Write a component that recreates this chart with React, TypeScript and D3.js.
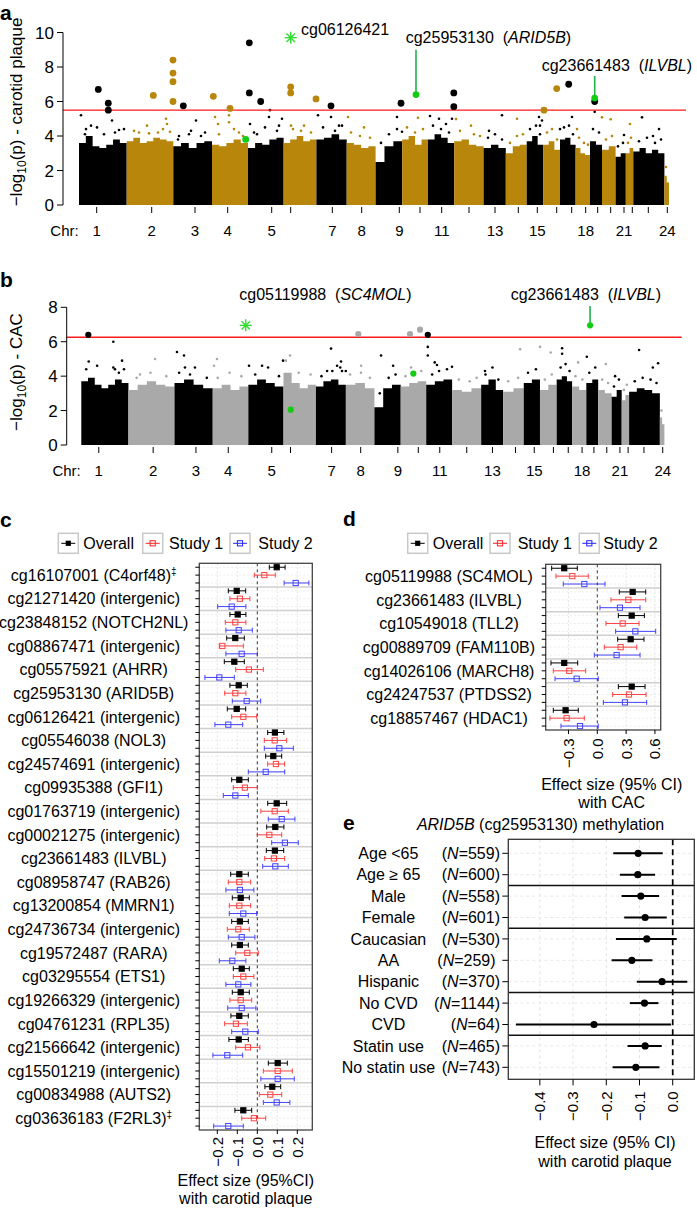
import React from "react";
import * as d3 from "d3";

const FONT = "'Liberation Sans', Arial, Helvetica, sans-serif";

// ---------------- Manhattan data ----------------
const chrLengths = [47.7, 46.6, 38.7, 36, 35.6, 32.8, 30.3, 28.9, 26.6, 25.8, 26.2, 29.4, 22.2, 20.9, 16.4, 16.9, 15.6, 14.4, 12, 13.6, 10.2, 7.5, 31.1, 4.6];
const chrTicks = [17.7, 72.7, 116, 148.7, 192.7, 211.7, 253.3, 282.7, 320.3, 341, 362.7, 390, 416, 439.3, 458.3, 477.7, 492.7, 506.7, 518.7, 531.7, 545, 553.3, 569.3, 588.3];
const chrTickLabels = ["1", "2", "3", "4", "5", "", "7", "8", "9", "", "11", "", "13", "", "15", "", "", "18", "", "", "21", "", "", "24"];

const profileA = [
  [3.6, 4.0, 3.4, 3.3, 3.5, 3.8, 3.6], [3.7, 3.9, 3.6, 3.7, 3.9, 3.8, 3.7], [3.4, 3.6, 3.3, 3.6, 3.7], [3.5, 3.4, 3.6, 3.8, 3.6],
  [3.3, 3.6, 3.5, 3.8, 3.9], [3.6, 3.8, 4.0, 3.7, 3.8], [3.8, 3.9, 4.1, 3.8], [3.6, 3.5, 3.3, 3.4], [2.5, 3.4, 3.7],
  [3.8, 4.0, 3.5, 3.8], [3.8, 4.1, 3.9, 3.6], [3.7, 3.8, 3.5, 3.4], [3.3, 3.5, 3.3], [3.0, 3.4, 3.5], [3.7, 4.0, 3.5],
  [3.5, 3.7, 3.2], [3.8, 3.9, 3.5], [3.3, 3.0, 2.9], [3.7, 3.5], [3.2, 3.4], [2.8, 3.0], [3.0, 3.3], [3.1, 3.3, 3.0, 3.2, 3.0], [1.7, 1.3],
];
const profileB = [
  [3.7, 3.9, 3.5, 3.3, 3.5, 3.8, 3.6], [3.2, 3.5, 3.7, 3.5, 3.4], [3.6, 3.8, 3.5, 3.3], [3.3, 3.5, 3.2, 3.4],
  [3.5, 3.8, 3.6, 3.4], [4.2, 3.6, 3.3, 3.5], [3.4, 3.7, 3.8, 3.5], [3.5, 3.6, 3.3], [2.2, 3.3, 3.5],
  [3.4, 3.6, 3.7], [3.5, 3.7, 3.8], [3.2, 3.1, 3.3], [3.5, 3.8, 3.2], [3.1, 3.3], [3.6, 3.8],
  [3.2, 3.5], [3.8, 4.0, 3.7], [3.4, 3.2], [3.6, 3.8], [3.2, 3.0], [2.8, 3.2], [2.6, 2.9], [3.1, 3.3, 3.2, 3.0], [1.6, 1.2],
];

const scatterA: [number, number][] = [
  [2, 5.2], [7, 4.4], [12, 4.6], [25, 4.1], [33, 4.9], [40, 4.35], [45, 4.4], [60, 4.2], [70, 4.15], [79, 4.2], [87, 5.0], [88, 4.7],
  [91, 4.25], [99, 3.8], [110, 4.1], [117, 4.9], [122, 4.0], [136, 5.1], [139, 4.7], [150, 5.2], [150, 4.8], [160, 4.2], [171, 4.7],
  [178, 4.1], [190, 5.1], [191, 5.5], [200, 4.6], [203, 5.0], [212, 4.6], [222, 4.3], [239, 5.2], [252, 5.1], [260, 4.6], [269, 5.1],
  [285, 4.5], [318, 5.1], [323, 4.25], [339, 5.06], [351, 5.16], [360, 5.0], [367, 4.7], [373, 5.0], [377, 4.98], [392, 4.6],
  [410, 4.3], [423, 5.2], [438, 5.0], [460, 5.1], [461, 4.6], [463, 4.9], [481, 4.4], [493, 5.1], [498, 4.4], [515.7, 5.4],
  [523, 5.08], [531.7, 4.97], [545, 4.06], [551, 4.7], [563, 5.08], [574, 4.0], [580, 4.4],
];
const fringeA: [number, number][] = [
  [6, 4.1], [18, 4.5], [36, 4.2], [55, 4.3], [68, 4.6], [84, 4.4], [100, 4.0], [112, 4.3], [126, 4.2], [140, 4.1], [155, 4.4],
  [164, 4.0], [175, 4.2], [186, 4.5], [198, 4.3], [214, 4.4], [225, 4.6], [232, 4.2], [244, 4.5], [256, 4.3], [263, 4.6],
  [272, 4.2], [281, 4.0], [291, 3.9], [302, 3.6], [310, 4.1], [318, 4.4], [328, 4.5], [336, 4.2], [344, 4.4], [354, 4.6],
  [362, 4.4], [370, 4.2], [381, 4.3], [395, 4.1], [401, 4.0], [409, 3.9], [416, 4.1], [423, 3.8], [431, 3.6], [438, 4.0],
  [444, 4.1], [451, 4.4], [457, 4.6], [461, 4.1], [468, 4.2], [473, 4.4], [478, 3.8], [485, 4.5], [490, 4.6], [494, 4.1],
  [500, 3.9], [505, 3.6], [509, 3.5], [514, 4.4], [520, 4.2], [527, 3.8], [533, 4.0], [539, 3.4], [544, 3.6], [549, 3.6],
  [552, 3.9], [560, 3.7], [568, 3.9], [576, 3.6], [582, 3.8], [587, 2.2],
];
const scatterB: [number, number][] = [
  [7.5, 4.85], [32.4, 6.0], [32.4, 4.5], [34.1, 4.4], [41.2, 4.9], [43.2, 4.4], [59.4, 4.1], [74.6, 5.0], [96.8, 5.4], [103.9, 5.2],
  [104.9, 4.5], [110, 4.1], [134.3, 4.6], [137.3, 5.0], [169.7, 4.6], [182.9, 4.6], [204.1, 4.9], [211.2, 5.2], [248.7, 4.3],
  [252.7, 5.6], [258.8, 4.6], [263.8, 4.3], [262.8, 4.85], [267.6, 4.3], [283.1, 4.6], [303.3, 5.2], [315.5, 4.6], [333.7, 4.5],
  [350.6, 5.7], [350.6, 5.2], [357.6, 4.8], [359.9, 4.65], [375.1, 4.55], [408.5, 4.3], [444, 5.56], [464.2, 5.7], [475, 5.37],
  [486.5, 5.62], [486.5, 5.3], [502.7, 4.8], [511.5, 5.13], [530.7, 4.7], [540.1, 4.0], [564.4, 5.52], [578.3, 4.5], [583.6, 4.75],
];
const fringeB: [number, number][] = [
  [5, 4.4], [16, 4.6], [38, 4.2], [56, 3.9], [70, 4.2], [86, 4.0], [99, 4.2], [115, 4.5], [127, 3.9], [138, 3.9], [150, 4.2],
  [162, 4.0], [176, 4.1], [189, 4.5], [200, 4.0], [207, 4.9], [220, 4.2], [232, 4.1], [243, 4.0], [254, 4.3], [262, 4.5],
  [272, 4.1], [283, 4.2], [292, 3.9], [302, 3.0], [311, 3.9], [318, 4.1], [328, 4.0], [337, 4.2], [344, 4.3], [355, 4.1],
  [362, 4.3], [370, 4.4], [382, 3.8], [393, 3.7], [400, 3.9], [409, 4.1], [416, 4.5], [422, 3.8], [432, 3.7], [442, 3.9],
  [452, 4.2], [460, 4.4], [469, 3.8], [476, 4.1], [485, 4.5], [490, 4.7], [494, 4.3], [500, 4.0], [507, 3.8], [514, 4.2],
  [520, 4.5], [527, 3.8], [533, 3.6], [539, 3.4], [544, 3.8], [549, 3.2], [552, 3.5], [560, 3.7], [568, 3.9], [576, 3.8],
  [582, 3.6], [587, 2.0],
];

const hitsA: [number, number][] = [
  [19.3, 6.7], [29.3, 5.9], [29.3, 5.5], [74.3, 6.35], [94, 8.4], [94, 7.65], [94, 7.15], [94, 6.0], [104.3, 5.75], [134.3, 6.3],
  [151, 5.6], [170.3, 9.4], [170.3, 6.5], [181.7, 6.0], [211.7, 6.85], [211.7, 6.5], [237, 6.15], [252, 5.75], [322, 5.9],
  [374.8, 6.5], [374.8, 5.7], [465, 5.5], [477.7, 6.75], [489.7, 7.0], [515.7, 6.0],
];
const hitsB: [number, number][] = [[7.1, 6.4], [280.3, 6.45], [332.6, 6.45], [342.8, 6.7], [350.6, 6.4]];
const greenA: [number, number][] = [[166.7, 3.8], [337, 6.4], [515.7, 6.2]];
const greenB: [number, number][] = [[211.9, 2.05], [336, 4.15], [514.8, 6.95]];
const starA: [number, number] = [211.7, 9.7];
const starB: [number, number] = [166.4, 6.95];

const chrStarts: number[] = chrLengths.reduce((acc: number[], l, i) => { acc.push(acc[i] + l); return acc; }, [0]);
const GENOME = chrStarts[chrStarts.length - 1];

// ---------------- Panel c data ----------------
const cpgC = [
  "cg16107001 (C4orf48)‡", "cg21271420 (intergenic)", "cg23848152 (NOTCH2NL)", "cg08867471 (intergenic)", "cg05575921 (AHRR)",
  "cg25953130 (ARID5B)", "cg06126421 (intergenic)", "cg05546038 (NOL3)", "cg24574691 (intergenic)", "cg09935388 (GFI1)",
  "cg01763719 (intergenic)", "cg00021275 (intergenic)", "cg23661483 (ILVBL)", "cg08958747 (RAB26)", "cg13200854 (MMRN1)",
  "cg24736734 (intergenic)", "cg19572487 (RARA)", "cg03295554 (ETS1)", "cg19266329 (intergenic)", "cg04761231 (RPL35)",
  "cg21566642 (intergenic)", "cg15501219 (intergenic)", "cg00834988 (AUTS2)", "cg03636183 (F2RL3)‡",
];
const cOverall: [number, number, number][] = [
  [0.097, 0.06, 0.139], [-0.103, -0.145, -0.058], [-0.098, -0.137, -0.057], [-0.11, -0.153, -0.065], [-0.115, -0.165, -0.065],
  [-0.093, -0.137, -0.05], [-0.103, -0.15, -0.058], [0.088, 0.052, 0.133], [0.08, 0.042, 0.122], [-0.09, -0.128, -0.045],
  [0.097, 0.052, 0.147], [0.09, 0.047, 0.133], [0.088, 0.045, 0.132], [-0.09, -0.133, -0.045], [-0.083, -0.125, -0.04],
  [-0.087, -0.128, -0.045], [-0.087, -0.128, -0.045], [-0.078, -0.12, -0.04], [-0.083, -0.125, -0.04], [-0.09, -0.132, -0.045],
  [-0.093, -0.142, -0.045], [0.102, 0.055, 0.15], [0.075, 0.038, 0.117], [-0.07, -0.112, -0.028],
];
const cStudy1: [number, number, number][] = [
  [0.035, -0.015, 0.09], [-0.087, -0.137, -0.037], [-0.11, -0.16, -0.057], [-0.175, -0.19, -0.07], [-0.042, -0.108, 0.03],
  [-0.11, -0.163, -0.057], [-0.07, -0.128, -0.003], [0.087, 0.035, 0.147], [0.093, 0.052, 0.137], [-0.062, -0.12, 0.0],
  [0.087, 0.018, 0.155], [0.06, 0.0, 0.122], [0.083, 0.037, 0.137], [-0.09, -0.145, -0.033], [-0.09, -0.14, -0.033],
  [-0.095, -0.15, -0.04], [-0.05, -0.108, 0.005], [-0.07, -0.12, -0.017], [-0.083, -0.137, -0.028], [-0.107, -0.163, -0.05],
  [-0.047, -0.108, 0.013], [0.102, 0.03, 0.175], [0.065, 0.01, 0.122], [-0.017, -0.078, 0.042],
];
const cStudy2: [number, number, number][] = [
  [0.192, 0.134, 0.258], [-0.128, -0.198, -0.057], [-0.093, -0.157, -0.025], [-0.078, -0.157, 0.0], [-0.19, -0.262, -0.115],
  [-0.053, -0.125, 0.017], [-0.145, -0.212, -0.073], [0.11, 0.035, 0.18], [0.042, -0.045, 0.137], [-0.11, -0.17, -0.045],
  [0.122, 0.055, 0.188], [0.138, 0.072, 0.205], [0.09, 0.027, 0.155], [-0.087, -0.157, -0.017], [-0.07, -0.14, -0.003],
  [-0.078, -0.145, -0.012], [-0.125, -0.19, -0.057], [-0.095, -0.157, -0.032], [-0.078, -0.148, -0.007], [-0.06, -0.128, 0.005],
  [-0.15, -0.222, -0.073], [0.102, 0.018, 0.185], [0.097, 0.03, 0.163], [-0.145, -0.218, -0.07],
];
const cTicks = [-0.2, -0.1, 0, 0.1, 0.2];

// ---------------- Panel d data ----------------
const cpgD = ["cg05119988 (SC4MOL)", "cg23661483 (ILVBL)", "cg10549018 (TLL2)", "cg00889709 (FAM110B)", "cg14026106 (MARCH8)", "cg24247537 (PTDSS2)", "cg18857467 (HDAC1)"];
const dOverall: [number, number, number][] = [[-0.344, -0.475, -0.208], [0.368, 0.229, 0.504], [0.358, 0.219, 0.49], [0.347, 0.212, 0.486], [-0.344, -0.482, -0.204], [0.358, 0.219, 0.497], [-0.33, -0.458, -0.198]];
const dStudy1: [number, number, number][] = [[-0.26, -0.43, -0.094], [0.323, 0.143, 0.504], [0.264, 0.09, 0.434], [0.243, 0.073, 0.41], [-0.292, -0.458, -0.121], [0.33, 0.16, 0.507], [-0.319, -0.493, -0.135]];
const dStudy2: [number, number, number][] = [[-0.135, -0.354, 0.08], [0.236, 0.028, 0.445], [0.396, 0.191, 0.608], [0.201, -0.031, 0.445], [-0.215, -0.44, 0.01], [0.288, 0.063, 0.514], [-0.18, -0.378, 0.01]];
const dTicks = [-0.3, 0, 0.3, 0.6];

// ---------------- Panel e data ----------------
const eGroups = ["Age <65", "Age ≥ 65", "Male", "Female", "Caucasian", "AA", "Hispanic", "No CVD", "CVD", "Statin use", "No statin use"];
const eN = ["559", "600", "558", "601", "530", "259", "370", "1144", "64", "465", "743"];
const eEst = [-0.104, -0.105, -0.096, -0.083, -0.078, -0.123, -0.032, -0.085, -0.237, -0.083, -0.111];
const eLo = [-0.179, -0.159, -0.154, -0.146, -0.171, -0.184, -0.108, -0.129, -0.472, -0.136, -0.181];
const eHi = [-0.03, -0.053, -0.041, -0.018, 0.012, -0.061, 0.044, -0.043, -0.005, -0.033, -0.04];
const eBreaks = [1, 3, 6, 8];
const eTicks = [-0.4, -0.3, -0.2, -0.1, 0];

const fmt1 = d3.format(".1f");
const GOLD = "#B8860B";
const GREEN_DOT = "#11cc11";
const GREEN_LINE = "#22b04a";
const RED = "#ff2222";
const BLUE = "#2323ff";

function chrOf(pos: number) {
  return Math.max(0, Math.min(23, d3.bisectRight(chrStarts, pos) - 1));
}

function Star({ x, y, r }: { x: number; y: number; r: number }) {
  return (
    <g stroke="#33dd33" strokeWidth={1.4}>
      {[0, 45, 90, 135].map((a) => {
        const rad = (a * Math.PI) / 180;
        return <line key={a} x1={x - r * Math.cos(rad)} y1={y - r * Math.sin(rad)} x2={x + r * Math.cos(rad)} y2={y + r * Math.sin(rad)} />;
      })}
    </g>
  );
}

type Annot = { pos: number; value: number; lineTo?: number; id: string; gene?: string; tx: number; ty: number };

function Manhattan(p: {
  xRange: [number, number]; yMax: number; yRange: [number, number]; axisX: number; yTicks: number[];
  threshold: number; thrEnd: number; colors: string[]; profile: number[][]; scatter: [number, number][];
  hits: [number, number][]; green: [number, number][]; star: [number, number]; hitR: number;
  titleRest: string; titleY: number; labelY: number; letter: string; letterY: number; annots: Annot[];
}) {
  const xs = d3.scaleLinear().domain([0, GENOME]).range(p.xRange);
  const ys = d3.scaleLinear().domain([0, p.yMax]).range(p.yRange);
  const area = d3.area<[number, number]>().x((d) => xs(d[0])).y0(ys(0)).y1((d) => ys(d[1])).curve(d3.curveStepAfter);
  const y0 = ys(0);
  return (
    <g>
      <text x={0} y={p.letterY} fontSize={21} fontWeight="bold">{p.letter}</text>
      {p.profile.map((prof, i) => {
        const s = chrStarts[i], L = chrLengths[i];
        const pts: [number, number][] = prof.map((h, j) => [s + (L * j) / prof.length, h]);
        pts.push([s + L, prof[prof.length - 1]]);
        return <path key={i} d={area(pts) || ""} fill={p.colors[i % 2]} />;
      })}
      {p.scatter.map((d, i) => (
        <circle key={i} cx={xs(d[0])} cy={ys(d[1])} r={1.3} fill={p.colors[chrOf(d[0]) % 2]} />
      ))}
      <line x1={p.axisX} x2={p.thrEnd} y1={ys(p.threshold)} y2={ys(p.threshold)} stroke="#ff1a1a" strokeWidth={1.3} />
      {p.hits.map((d, i) => (
        <circle key={i} cx={xs(d[0])} cy={ys(d[1])} r={p.hitR} fill={p.colors[chrOf(d[0]) % 2]} />
      ))}
      {p.annots.filter((a) => a.lineTo !== undefined).map((a, i) => (
        <line key={i} x1={xs(a.pos)} x2={xs(a.pos)} y1={ys(a.value)} y2={ys(a.lineTo as number)} stroke={GREEN_LINE} strokeWidth={1.6} />
      ))}
      {p.green.map((d, i) => (
        <circle key={i} cx={xs(d[0])} cy={ys(d[1])} r={p.hitR} fill={GREEN_DOT} />
      ))}
      <Star x={xs(p.star[0])} y={ys(p.star[1])} r={6} />
      {p.annots.map((a, i) => (
        <text key={i} x={a.tx} y={a.ty} fontSize={16} style={{ whiteSpace: "pre" }}>
          {a.id}
          {a.gene ? (
            <>
              {"  ("}
              <tspan fontStyle="italic">{a.gene}</tspan>
              {")"}
            </>
          ) : null}
        </text>
      ))}
      <line x1={p.axisX} x2={p.axisX} y1={ys(0)} y2={ys(p.yMax)} stroke="#000" />
      {p.yTicks.map((t) => (
        <g key={t}>
          <line x1={p.axisX - 6} x2={p.axisX} y1={ys(t)} y2={ys(t)} stroke="#000" />
          <text x={p.axisX - 9} y={ys(t)} dy="0.36em" textAnchor="end" fontSize={17}>{t}</text>
        </g>
      ))}
      <text transform={`translate(22,${p.titleY}) rotate(-90)`} textAnchor="middle" fontSize={17}>
        −log<tspan fontSize={12} dy={4}>10</tspan><tspan dy={-4}>{p.titleRest}</tspan>
      </text>
      {chrTicks.map((t, i) => (
        <g key={i}>
          <line x1={xs(t)} x2={xs(t)} y1={y0 + 2} y2={y0 + 8} stroke="#000" />
          {chrTickLabels[i] ? (
            <text x={xs(t)} y={p.labelY} textAnchor="middle" fontSize={15}>{chrTickLabels[i]}</text>
          ) : null}
        </g>
      ))}
      <text x={xs(chrTicks[0]) - 18} y={p.labelY} textAnchor="end" fontSize={15}>Chr:</text>
    </g>
  );
}

function Marker({ x, y, kind }: { x: number; y: number; kind: number }) {
  if (kind === 0) return <rect x={x - 2.6} y={y - 2.6} width={5.2} height={5.2} fill="#000" />;
  const c = kind === 1 ? RED : BLUE;
  return <rect x={x - 2.6} y={y - 2.6} width={5.2} height={5.2} fill="none" stroke={c} strokeWidth={1} />;
}

function Forest(p: {
  labels: string[]; series: [number, number, number][][]; xRange: [number, number]; domain: [number, number];
  top: number; bottom: number; ticks: number[]; labelX: number; tickTop: number; titles: string[]; titleX: number;
  titleY: number[]; legendY: number; legendBox: number[]; legendText: number[]; letter: string; letterX: number; letterY: number;
}) {
  const xs = d3.scaleLinear().domain(p.domain).range(p.xRange);
  const n = p.labels.length;
  const rh = (p.bottom - p.top) / (n * 3);
  const rowY = (r: number) => p.top + (r + 0.5) * rh;
  const [x0, x1] = p.xRange;
  const colors = ["#000", RED, BLUE];
  const names = ["Overall", "Study 1", "Study 2"];
  return (
    <g>
      <text x={p.letterX} y={p.letterY} fontSize={21} fontWeight="bold">{p.letter}</text>
      {names.map((nm, i) => (
        <g key={nm}>
          <rect x={p.legendBox[i]} y={p.legendY - 10} width={20} height={20} fill="#fff" stroke="#c8c8c8" strokeWidth={1.5} />
          <line x1={p.legendBox[i] + 3} x2={p.legendBox[i] + 17} y1={p.legendY} y2={p.legendY} stroke={colors[i]} strokeWidth={1} />
          <Marker x={p.legendBox[i] + 10} y={p.legendY} kind={i} />
          <text x={p.legendText[i]} y={p.legendY} dy="0.36em" fontSize={16}>{nm}</text>
        </g>
      ))}
      <rect x={x0} y={p.top} width={x1 - x0} height={p.bottom - p.top} fill="#fff" />
      {p.ticks.filter((t) => t !== 0).map((t) => (
        <line key={t} x1={xs(t)} x2={xs(t)} y1={p.top} y2={p.bottom} stroke="#e2e2e2" strokeDasharray="2,2" />
      ))}
      {d3.range(n * 3).map((r) => (
        <line key={r} x1={x0} x2={x1} y1={rowY(r)} y2={rowY(r)} stroke="#ececec" strokeDasharray="2,2" />
      ))}
      {d3.range(1, n).map((g) => (
        <line key={g} x1={x0} x2={x1} y1={p.top + g * 3 * rh} y2={p.top + g * 3 * rh} stroke="#cfcfcf" strokeWidth={1.5} />
      ))}
      <line x1={xs(0)} x2={xs(0)} y1={p.top} y2={p.bottom} stroke="#333" strokeDasharray="3,3" />
      {p.series.map((ser, s) =>
        ser.map((d, g) => {
          const y = rowY(g * 3 + s);
          return (
            <g key={`${s}-${g}`} stroke={colors[s]} opacity={s === 0 ? 1 : 0.85}>
              <line x1={xs(d[1])} x2={xs(d[2])} y1={y} y2={y} strokeWidth={1} />
              <line x1={xs(d[1])} x2={xs(d[1])} y1={y - 2.5} y2={y + 2.5} strokeWidth={1} />
              <line x1={xs(d[2])} x2={xs(d[2])} y1={y - 2.5} y2={y + 2.5} strokeWidth={1} />
              <Marker x={xs(d[0])} y={y} kind={s} />
            </g>
          );
        })
      )}
      <rect x={x0} y={p.top} width={x1 - x0} height={p.bottom - p.top} fill="none" stroke="#444" strokeWidth={1.3} />
      {d3.range(n * 3).map((r) => (
        <line key={r} x1={x0 - 4} x2={x0} y1={rowY(r)} y2={rowY(r)} stroke="#000" />
      ))}
      {p.labels.map((l, g) => {
        const dag = l.endsWith("‡");
        return (
          <text key={g} x={p.labelX} y={rowY(g * 3 + 1)} dy="0.36em" textAnchor="middle" fontSize={16}>
            {dag ? l.slice(0, -1) : l}
            {dag ? <tspan fontSize={10} dy={-6}>‡</tspan> : null}
          </text>
        );
      })}
      {p.ticks.map((t) => (
        <g key={t}>
          <line x1={xs(t)} x2={xs(t)} y1={p.bottom} y2={p.bottom + 4} stroke="#000" />
          <text transform={`translate(${xs(t)},${p.tickTop}) rotate(-90)`} dy="0.36em" textAnchor="end" fontSize={15}>{fmt1(t)}</text>
        </g>
      ))}
      {p.titles.map((t, i) => (
        <text key={i} x={p.titleX} y={p.titleY[i]} textAnchor="middle" fontSize={16}>{t}</text>
      ))}
    </g>
  );
}

function PanelE() {
  const x0 = 508.3, x1 = 694.3, top = 839.3, bottom = 1079.3;
  const xs = d3.scaleLinear().domain([-0.495, 0.065]).range([x0, x1]);
  const ys = d3.scaleLinear().domain([0, eGroups.length - 1]).range([853.3, 1067.3]);
  return (
    <g>
      <text x={343} y={830} fontSize={21} fontWeight="bold">e</text>
      <text x={540.5} y={830} textAnchor="middle" fontSize={16}>
        <tspan fontStyle="italic">ARID5B</tspan> (cg25953130) methylation
      </text>
      {eTicks.filter((t) => t !== 0).map((t) => (
        <line key={t} x1={xs(t)} x2={xs(t)} y1={top} y2={bottom} stroke="#e2e2e2" strokeDasharray="3,3" />
      ))}
      {eGroups.map((g, i) => (
        <line key={g} x1={x0} x2={x1} y1={ys(i)} y2={ys(i)} stroke="#e8e8e8" strokeDasharray="3,3" />
      ))}
      {eBreaks.map((b) => (
        <line key={b} x1={x0} x2={x1} y1={(ys(b) + ys(b + 1)) / 2} y2={(ys(b) + ys(b + 1)) / 2} stroke="#111" strokeWidth={1.5} />
      ))}
      <line x1={xs(0)} x2={xs(0)} y1={top} y2={bottom} stroke="#000" strokeWidth={1.7} strokeDasharray="6,4" />
      {eGroups.map((g, i) => (
        <g key={g}>
          <line x1={xs(eLo[i])} x2={xs(eHi[i])} y1={ys(i)} y2={ys(i)} stroke="#000" strokeWidth={2} />
          <circle cx={xs(eEst[i])} cy={ys(i)} r={3.6} fill="#000" />
          <line x1={x0 - 6} x2={x0} y1={ys(i)} y2={ys(i)} stroke="#000" />
          <text x={388.4} y={ys(i)} dy="0.36em" textAnchor="middle" fontSize={16}>{g}</text>
          <text x={500} y={ys(i)} dy="0.36em" textAnchor="end" fontSize={16} style={{ whiteSpace: "pre" }}>
            (<tspan fontStyle="italic">N</tspan>{`=${eN[i]})${eN[i] === "259" ? " " : ""}`}
          </text>
        </g>
      ))}
      <rect x={x0} y={top} width={x1 - x0} height={bottom - top} fill="none" stroke="#333" strokeWidth={1.3} />
      {eTicks.map((t) => (
        <g key={t}>
          <line x1={xs(t)} x2={xs(t)} y1={bottom} y2={bottom + 6} stroke="#000" />
          <text transform={`translate(${xs(t)},${bottom + 12}) rotate(-90)`} dy="0.36em" textAnchor="end" fontSize={15}>{fmt1(t)}</text>
        </g>
      ))}
      <text x={605} y={1148} textAnchor="middle" fontSize={16}>Effect size (95% CI)</text>
      <text x={605} y={1167} textAnchor="middle" fontSize={16}>with carotid plaque</text>
    </g>
  );
}

export default function App() {
  return (
    <svg width={697} height={1209} style={{ position: "absolute", left: 0, top: 0, background: "#fff" }} fontFamily={FONT}>
      <rect width={697} height={1209} fill="#fff" />
      <Manhattan
        xRange={[79, 669]} yMax={10} yRange={[205, 32.5]} axisX={63} yTicks={[0, 2, 4, 6, 8, 10]}
        threshold={5.5} thrEnd={686} colors={["#000", GOLD]} profile={profileA} scatter={[...fringeA, ...scatterA]}
        hits={hitsA} green={greenA} star={starA} hitR={3.4} titleRest="(p) - carotid plaque" titleY={112}
        labelY={235.5} letter="a" letterY={20}
        annots={[
          { pos: 211.7, value: 9.7, id: "cg06126421", tx: 301, ty: 35 },
          { pos: 337, value: 6.4, lineTo: 9.0, id: "cg25953130", gene: "ARID5B", tx: 405.7, ty: 43 },
          { pos: 515.7, value: 6.2, lineTo: 7.48, id: "cg23661483", gene: "ILVBL", tx: 541.7, ty: 71 },
        ]}
      />
      <Manhattan
        xRange={[81.3, 664.4]} yMax={8} yRange={[445, 307.3]} axisX={66.7} yTicks={[0, 2, 4, 6, 8]}
        threshold={6.26} thrEnd={681.7} colors={["#000", "#a9a9a9"]} profile={profileB} scatter={[...fringeB, ...scatterB]}
        hits={hitsB} green={greenB} star={starB} hitR={3.1} titleRest="(p) - CAC" titleY={372}
        labelY={475.5} letter="b" letterY={287}
        annots={[
          { pos: 166.4, value: 6.95, id: "cg05119988", gene: "SC4MOL", tx: 239.3, ty: 300 },
          { pos: 514.8, value: 6.95, lineTo: 8.08, id: "cg23661483", gene: "ILVBL", tx: 510.7, ty: 300 },
        ]}
      />
      <Forest
        labels={cpgC} series={[cOverall, cStudy1, cStudy2]} xRange={[199.3, 312.3]} domain={[-0.29, 0.275]}
        top={563.3} bottom={1130} ticks={cTicks} labelX={93.7} tickTop={1137}
        titles={["Effect size (95%CI)", "with carotid plaque"]} titleX={245.8} titleY={[1186, 1204]}
        legendY={543.3} legendBox={[58.3, 142.7, 230]} legendText={[83.3, 169, 258.3]} letter="c" letterX={0} letterY={527}
      />
      <Forest
        labels={cpgD} series={[dOverall, dStudy1, dStudy2]} xRange={[545.7, 660.7]} domain={[-0.537, 0.66]}
        top={564.3} bottom={730} ticks={dTicks} labelX={449} tickTop={738.3}
        titles={["Effect size (95% CI)", "with CAC"]} titleX={611.7} titleY={[790, 807.5]}
        legendY={543.3} legendBox={[407.7, 490, 579.3]} legendText={[432.7, 517.7, 603.3]} letter="d" letterX={343} letterY={526}
      />
      <PanelE />
    </svg>
  );
}
